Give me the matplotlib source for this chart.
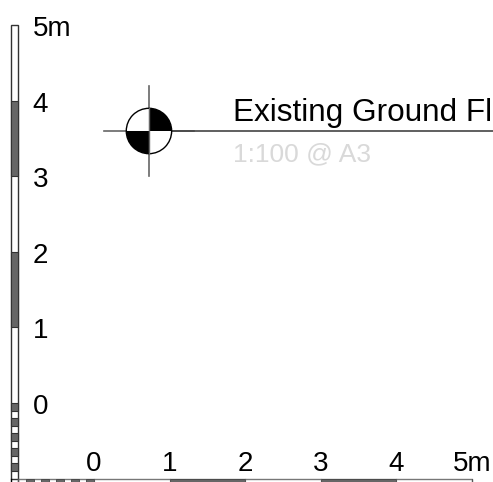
import matplotlib
matplotlib.use('Agg')
import matplotlib.pyplot as plt
from matplotlib.patches import Rectangle, Wedge, Circle

plt.rcParams['font.family'] = ['Liberation Sans', 'DejaVu Sans']

# scale bars, in metres
tick_pos = [0, 1, 2, 3, 4, 5]
tick_labels = ['0', '1', '2', '3', '4', '5m']
major_dark = [(1, 2), (3, 4)]
minor_dark = [(-0.1, 0), (-0.3, -0.2), (-0.5, -0.4), (-0.7, -0.6), (-0.9, -0.8)]
bar_start = -1.0
bar_end = 5.0
bar_near = -1.0
bar_far = -1.1

# section marker and titles
marker_x = 0.727
marker_y = 3.598
marker_r = 0.3
title = 'Existing Ground Fl'
subtitle = '1:100 @ A3'

px = 75.6
fig = plt.figure(figsize=(4.93, 4.82), dpi=100)
ax = fig.add_axes([0, 0, 1, 1])
ax.set_xlim(-94 / px, (493 - 94) / px)
ax.set_ylim((403 - 482) / px, 403 / px)
ax.axis('off')

dark = '#666666'
edge = '#333333'
thick = bar_far - bar_near

# outlines of both bars
ax.add_patch(Rectangle((bar_far, bar_start), -thick, bar_end - bar_start,
                       fc='white', ec=edge, lw=1, clip_on=False))
ax.add_patch(Rectangle((bar_start, bar_far), bar_end - bar_start, -thick,
                       fc='white', ec='#777777', lw=1))
ax.plot([bar_far, bar_far], [bar_start, bar_far], color='black', lw=1)
ax.plot([bar_near, bar_near], [bar_start, bar_far], color='#555555', lw=1)

for a, b in major_dark + minor_dark:
    # horizontal bar
    ax.add_patch(Rectangle((a, bar_far), b - a, -thick, fc=dark, ec='#444444', lw=0.6))
    # vertical bar
    ax.add_patch(Rectangle((bar_far, a), -thick, b - a, fc=dark, ec='#333333', lw=0.8))

for p in tick_pos:
    ax.plot([p, p], [bar_near, bar_far], color='#555555', lw=0.8)

for p, lab in zip(tick_pos, tick_labels):
    ax.text(-0.81, p - 0.145, lab, fontsize=20, color='black', ha='left', va='baseline')
    ax.text(p, -0.9, lab, fontsize=20, color='black', ha='center', va='baseline')

# section marker
ax.plot([marker_x - 0.6, marker_x + 0.6], [marker_y, marker_y], color='#666666', lw=1.2)
ax.plot([marker_x, marker_x], [marker_y - 0.6, marker_y + 0.6], color='#666666', lw=1.2)
ax.add_patch(Circle((marker_x, marker_y), marker_r, fc='white', ec='black', lw=1, zorder=3))
ax.add_patch(Wedge((marker_x, marker_y), marker_r, 0, 90, fc='black', ec='none', zorder=4))
ax.add_patch(Wedge((marker_x, marker_y), marker_r, 180, 270, fc='black', ec='none', zorder=4))
ax.plot([marker_x, marker_x], [marker_y - marker_r, marker_y + marker_r], color='#666666', lw=1, zorder=5)

ax.plot([marker_x + marker_r, 6], [marker_y, marker_y], color='#444444', lw=1.2)
ax.text(1.84, 3.735, title, fontsize=22.7, color='black', ha='left', va='baseline')
ax.text(1.84, 3.2, subtitle, fontsize=19, color='#d9d9d9', ha='left', va='baseline')

fig.savefig('out.png', dpi=100)
